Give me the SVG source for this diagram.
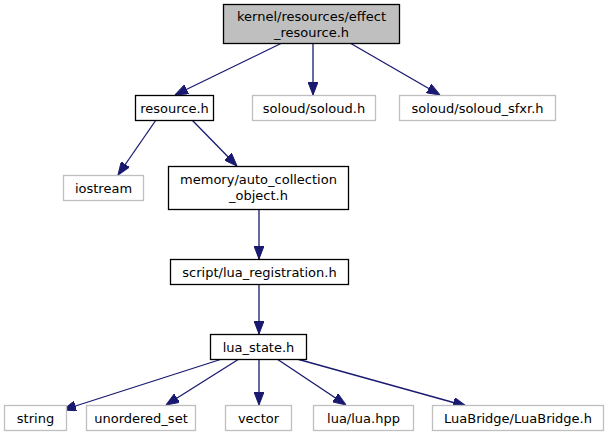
<svg xmlns="http://www.w3.org/2000/svg" width="607" height="440" viewBox="0 0 607 440">
<style>
text{font-family:"DejaVu Sans",sans-serif;font-size:13px;fill:#000;text-anchor:middle}
.n{fill:#fff;stroke:#000;stroke-width:1.3}
.g{fill:#fff;stroke:#bfbfbf;stroke-width:1.3}
.e{stroke:#191970;stroke-width:1.3;fill:none;marker-end:url(#ah)}
</style>
<defs>
<marker id="ah" viewBox="0 0 13 10" refX="13" refY="5" markerWidth="13" markerHeight="10" markerUnits="userSpaceOnUse" orient="auto">
<path d="M0,0 L13,5 L0,10 Z" fill="#191970" stroke="#191970"/>
</marker>
</defs>
<rect width="607" height="440" fill="#fff"/>
<g id="edges">
<path class="e" d="M282,43 L175,95"/>
<path class="e" d="M313,43 L313,95"/>
<path class="e" d="M350,43 L440,95"/>
<path class="e" d="M156,120 L118,175"/>
<path class="e" d="M192,120 L237,166"/>
<path class="e" d="M259,209 L259,259"/>
<path class="e" d="M259,284 L259,334"/>
<path class="e" d="M222,359 L63,410"/>
<path class="e" d="M239,359 L166,405"/>
<path class="e" d="M259,359 L259,405"/>
<path class="e" d="M277,359 L346,405"/>
<path class="e" d="M297,359 L466,406"/>
</g>
<g id="effect_resource"><rect x="223.5" y="4.5" width="176" height="39" fill="#bfbfbf" stroke="#000" stroke-width="1.3"/><text x="311.5" y="21">kernel/resources/effect</text><text x="311.5" y="37">_resource.h</text></g>
<g id="resource"><rect class="n" x="135.5" y="95.5" width="78" height="25"/><text x="174.5" y="112.5">resource.h</text></g>
<g id="soloud"><rect class="g" x="252.5" y="95.5" width="123" height="25"/><text x="314" y="112.5">soloud/soloud.h</text></g>
<g id="soloud_sfxr"><rect class="g" x="399.5" y="95.5" width="156" height="25"/><text x="477.5" y="112.5">soloud/soloud_sfxr.h</text></g>
<g id="iostream"><rect class="g" x="63.5" y="175.5" width="80" height="25"/><text x="103.5" y="192.5">iostream</text></g>
<g id="auto_collection"><rect class="n" x="168.5" y="166.5" width="180" height="43"/><text x="258.5" y="184">memory/auto_collection</text><text x="258.5" y="200">_object.h</text></g>
<g id="lua_registration"><rect class="n" x="170.5" y="259.5" width="178" height="25"/><text x="259.5" y="276.5">script/lua_registration.h</text></g>
<g id="lua_state"><rect class="n" x="210.5" y="334.5" width="96" height="25"/><text x="258.5" y="351.5">lua_state.h</text></g>
<g id="string"><rect class="g" x="4.5" y="405.5" width="62" height="25"/><text x="35.5" y="422.5">string</text></g>
<g id="unordered_set"><rect class="g" x="86.5" y="405.5" width="109" height="25"/><text x="141" y="422.5">unordered_set</text></g>
<g id="vector"><rect class="g" x="225.5" y="405.5" width="66" height="25"/><text x="258.5" y="422.5">vector</text></g>
<g id="lua_hpp"><rect class="g" x="313.5" y="405.5" width="100" height="25"/><text x="363.5" y="422.5">lua/lua.hpp</text></g>
<g id="luabridge"><rect class="g" x="432.5" y="405.5" width="171" height="25"/><text x="518" y="422.5">LuaBridge/LuaBridge.h</text></g>
</svg>
